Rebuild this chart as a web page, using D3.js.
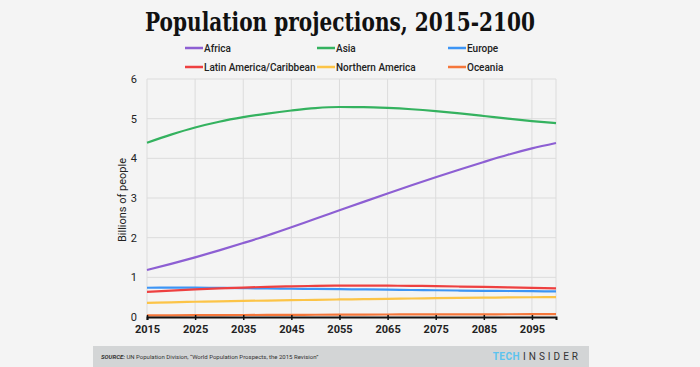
<!DOCTYPE html>
<html>
<head>
<meta charset="utf-8">
<script src="https://cdn.jsdelivr.net/npm/d3@7"></script>
<style>
  html, body { margin: 0; padding: 0; background: #f4f4f4; }
  svg { display: block; }
</style>
</head>
<body>
<div id="chart"></div>
<script>
// UN WPP 2015, medium variant, billions, every 5 years
const years = [2015, 2020, 2025, 2030, 2035, 2040, 2045, 2050, 2055, 2060, 2065, 2070, 2075, 2080, 2085, 2090, 2095, 2100];
const africa = [1.186, 1.340, 1.504, 1.679, 1.864, 2.055, 2.262, 2.478, 2.690, 2.903, 3.114, 3.322, 3.524, 3.719, 3.908, 4.089, 4.250, 4.387];
const asia = [4.393, 4.598, 4.778, 4.923, 5.037, 5.129, 5.206, 5.267, 5.294, 5.291, 5.271, 5.237, 5.190, 5.133, 5.068, 5.000, 4.940, 4.889];
const europe = [0.738, 0.740, 0.739, 0.734, 0.727, 0.719, 0.712, 0.707, 0.701, 0.695, 0.688, 0.681, 0.674, 0.667, 0.661, 0.655, 0.650, 0.646];
const latam = [0.634, 0.667, 0.696, 0.721, 0.742, 0.760, 0.774, 0.784, 0.790, 0.792, 0.790, 0.785, 0.778, 0.768, 0.757, 0.745, 0.733, 0.721];
const northAm = [0.358, 0.370, 0.384, 0.396, 0.406, 0.415, 0.424, 0.433, 0.442, 0.450, 0.459, 0.467, 0.475, 0.482, 0.488, 0.494, 0.498, 0.500];
const oceania = [0.039, 0.042, 0.045, 0.047, 0.050, 0.052, 0.055, 0.057, 0.059, 0.061, 0.063, 0.065, 0.066, 0.067, 0.068, 0.069, 0.070, 0.071];

const seriesNames = ["Africa", "Asia", "Europe", "Latin America/Caribbean", "Northern America", "Oceania"];
const seriesValues = [africa, asia, europe, latam, northAm, oceania];
const seriesColors = ["#8d5fd3", "#34b25f", "#3d95f5", "#ee4040", "#fcc447", "#f5773b"];
// draw order: small ones first so they sit under
const drawOrder = [5, 4, 2, 3, 0, 1];

const xTicks = [2015, 2025, 2035, 2045, 2055, 2065, 2075, 2085, 2095];
const yTicks = [0, 1, 2, 3, 4, 5, 6];

const W = 700, H = 367;
const margin = { top: 79, right: 144, bottom: 50, left: 147 };

const svg = d3.select("#chart").append("svg")
  .attr("width", W)
  .attr("height", H)
  .style("background", "#f4f4f4");

const x = d3.scaleLinear().domain([2015, 2100]).range([margin.left, W - margin.right]);
const y = d3.scaleLinear().domain([0, 6]).range([H - margin.bottom, margin.top]);

// title
svg.append("text")
  .attr("x", 340)
  .attr("y", 31)
  .attr("text-anchor", "middle")
  .attr("font-family", "'DejaVu Serif', serif")
  .attr("font-weight", "700")
  .attr("font-size", "26px")
  .attr("fill", "#111")
  .attr("textLength", 390)
  .attr("lengthAdjust", "spacingAndGlyphs")
  .text("Population projections, 2015-2100");

// legend
const legendX = [185, 317, 448];
const legendY = [48, 67];
const legend = svg.append("g").attr("class", "legend");
seriesNames.forEach((name, i) => {
  const lx = legendX[i % 3], ly = legendY[Math.floor(i / 3)];
  legend.append("line")
    .attr("x1", lx).attr("x2", lx + 18)
    .attr("y1", ly).attr("y2", ly)
    .attr("stroke", seriesColors[i])
    .attr("stroke-width", 2.5);
  legend.append("text")
    .attr("x", lx + 19)
    .attr("y", ly + 3.5)
    .attr("font-family", "Roboto, sans-serif")
    .attr("font-size", "10px")
    .attr("font-weight", "500")
    .attr("fill", "#222")
    .text(name);
});

// grid
const grid = svg.append("g").attr("class", "grid");
grid.selectAll("line.h")
  .data(yTicks.filter(d => d > 0))
  .enter().append("line")
  .attr("class", "h")
  .attr("x1", x(2015)).attr("x2", x(2100))
  .attr("y1", d => y(d)).attr("y2", d => y(d))
  .attr("stroke", "#dcdcdc")
  .attr("stroke-width", 1);
grid.selectAll("line.v")
  .data(xTicks.concat([2100]))
  .enter().append("line")
  .attr("class", "v")
  .attr("x1", d => x(d)).attr("x2", d => x(d))
  .attr("y1", y(6)).attr("y2", y(0))
  .attr("stroke", "#dcdcdc")
  .attr("stroke-width", 1);

// y labels
svg.append("g").selectAll("text")
  .data(yTicks)
  .enter().append("text")
  .attr("x", x(2015) - 10)
  .attr("y", d => y(d) + 4)
  .attr("text-anchor", "end")
  .attr("font-family", "Roboto, sans-serif")
  .attr("font-size", "11px")
  .attr("fill", "#222")
  .text(d => d);

svg.append("text")
  .attr("transform", `translate(126,${(y(0) + y(6)) / 2 + 2}) rotate(-90)`)
  .attr("text-anchor", "middle")
  .attr("font-family", "Roboto, sans-serif")
  .attr("font-size", "11px")
  .attr("fill", "#222")
  .text("Billions of people");

// lines
const line = d3.line()
  .x((d, i) => x(years[i]))
  .y(d => y(d))
  .curve(d3.curveMonotoneX);

svg.append("g").selectAll("path")
  .data(drawOrder)
  .enter().append("path")
  .attr("d", i => line(seriesValues[i]))
  .attr("fill", "none")
  .attr("stroke", i => seriesColors[i])
  .attr("stroke-width", 2.2);

// x axis
const xAxis = d3.axisBottom(x).tickValues(xTicks).tickSize(3).tickFormat(d3.format("d"));
const gx = svg.append("g")
  .attr("transform", `translate(0,${y(0)})`)
  .call(xAxis);
gx.select(".domain").attr("stroke", "#111").attr("stroke-width", 2);
gx.selectAll(".tick line").attr("stroke", "#111").attr("stroke-width", 1.5).attr("y1", -2);
gx.selectAll(".tick text")
  .attr("font-family", "Roboto, sans-serif")
  .attr("font-size", "11px")
  .attr("font-weight", "700")
  .attr("fill", "#222")
  .attr("dy", "0.9em");

// footer
svg.append("rect")
  .attr("x", 93).attr("y", 346)
  .attr("width", 496).attr("height", 21)
  .attr("fill", "#d3d5d6");

const src = svg.append("text")
  .attr("x", 101)
  .attr("y", 359)
  .attr("font-family", "Roboto, sans-serif")
  .attr("font-size", "6px")
  .attr("fill", "#333");
src.append("tspan").attr("font-weight", "700").attr("font-style", "italic").text("SOURCE:");
src.append("tspan").text(" UN Population Division, \u201cWorld Population Prospects, the 2015 Revision\u201d");

const logo = svg.append("text")
  .attr("x", 581)
  .attr("y", 360)
  .attr("text-anchor", "end")
  .attr("font-family", "Roboto, sans-serif")
  .attr("font-size", "10px");
logo.append("tspan").attr("font-weight", "700").attr("fill", "#5cc3ef").attr("letter-spacing", "0.5px").text("TECH ");
logo.append("tspan").attr("fill", "#333").attr("letter-spacing", "3px").text("INSIDER");
</script>
</body>
</html>
